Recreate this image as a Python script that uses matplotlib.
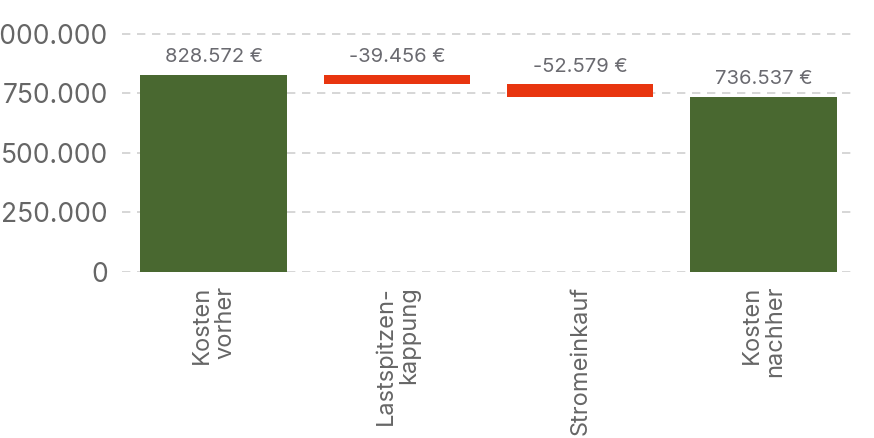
import matplotlib as mpl
mpl.use("Agg")
import matplotlib.pyplot as plt
from matplotlib.ticker import FuncFormatter

plt.rcParams['font.family'] = ['Inter', 'DejaVu Sans']

# data
categories = ["Kosten\nvorher", "Lastspitzen-\nkappung", "Stromeinkauf", "Kosten\nnachher"]
values = [828572, -39456, -52579, 736537]
is_total = [True, False, False, True]
yticks = [0, 250000, 500000, 750000, 1000000]

green = '#496830'
red = '#e8350f'
grey = '#666666'


def de_fmt(v):
    return f"{v:,.0f}".replace(',', '.')


# waterfall bottoms / heights
bottoms = []
heights = []
colors = []
running = 0
for v, tot in zip(values, is_total):
    if tot:
        bottoms.append(0)
        heights.append(v)
        colors.append(green)
        running = v
    else:
        bottoms.append(running + v)
        heights.append(-v)
        colors.append(red)
        running = running + v

fig = plt.figure(figsize=(8.74, 4.38), dpi=100, facecolor='w')
ax = fig.add_axes([122/874, 1-272/438, (855-122)/874, (272-10)/438])

x = range(len(categories))
ax.bar(x, heights, bottom=bottoms, width=0.8, color=colors, zorder=3)

for i, v in enumerate(values):
    top = bottoms[i] + heights[i]
    ax.annotate(de_fmt(v) + " €", (i, top), xytext=(0, 6), textcoords='offset points',
                ha='center', va='bottom', fontsize=14.5, color='#6a6a70')

ax.set_xlim(-0.5, 3.5)
ax.set_ylim(0, 1.1e6)
ax.set_yticks(yticks)
ax.yaxis.set_major_formatter(FuncFormatter(lambda v, p: de_fmt(v)))
ax.set_xticks(list(x))
ax.set_xticklabels(categories, rotation=90, va='top', ha='center',
                   multialignment='right', fontsize=17, color=grey, linespacing=1.08)
ax.tick_params(axis='both', length=0)
ax.tick_params(axis='x', pad=10)
ax.tick_params(axis='y', pad=10, labelsize=19, labelcolor=grey)

ax.grid(axis='y', color='#d0d0d0', linestyle=(0, (5, 4)), linewidth=1.2, zorder=0)
for s in ax.spines.values():
    s.set_visible(False)

plt.savefig("out.png", dpi=100)
